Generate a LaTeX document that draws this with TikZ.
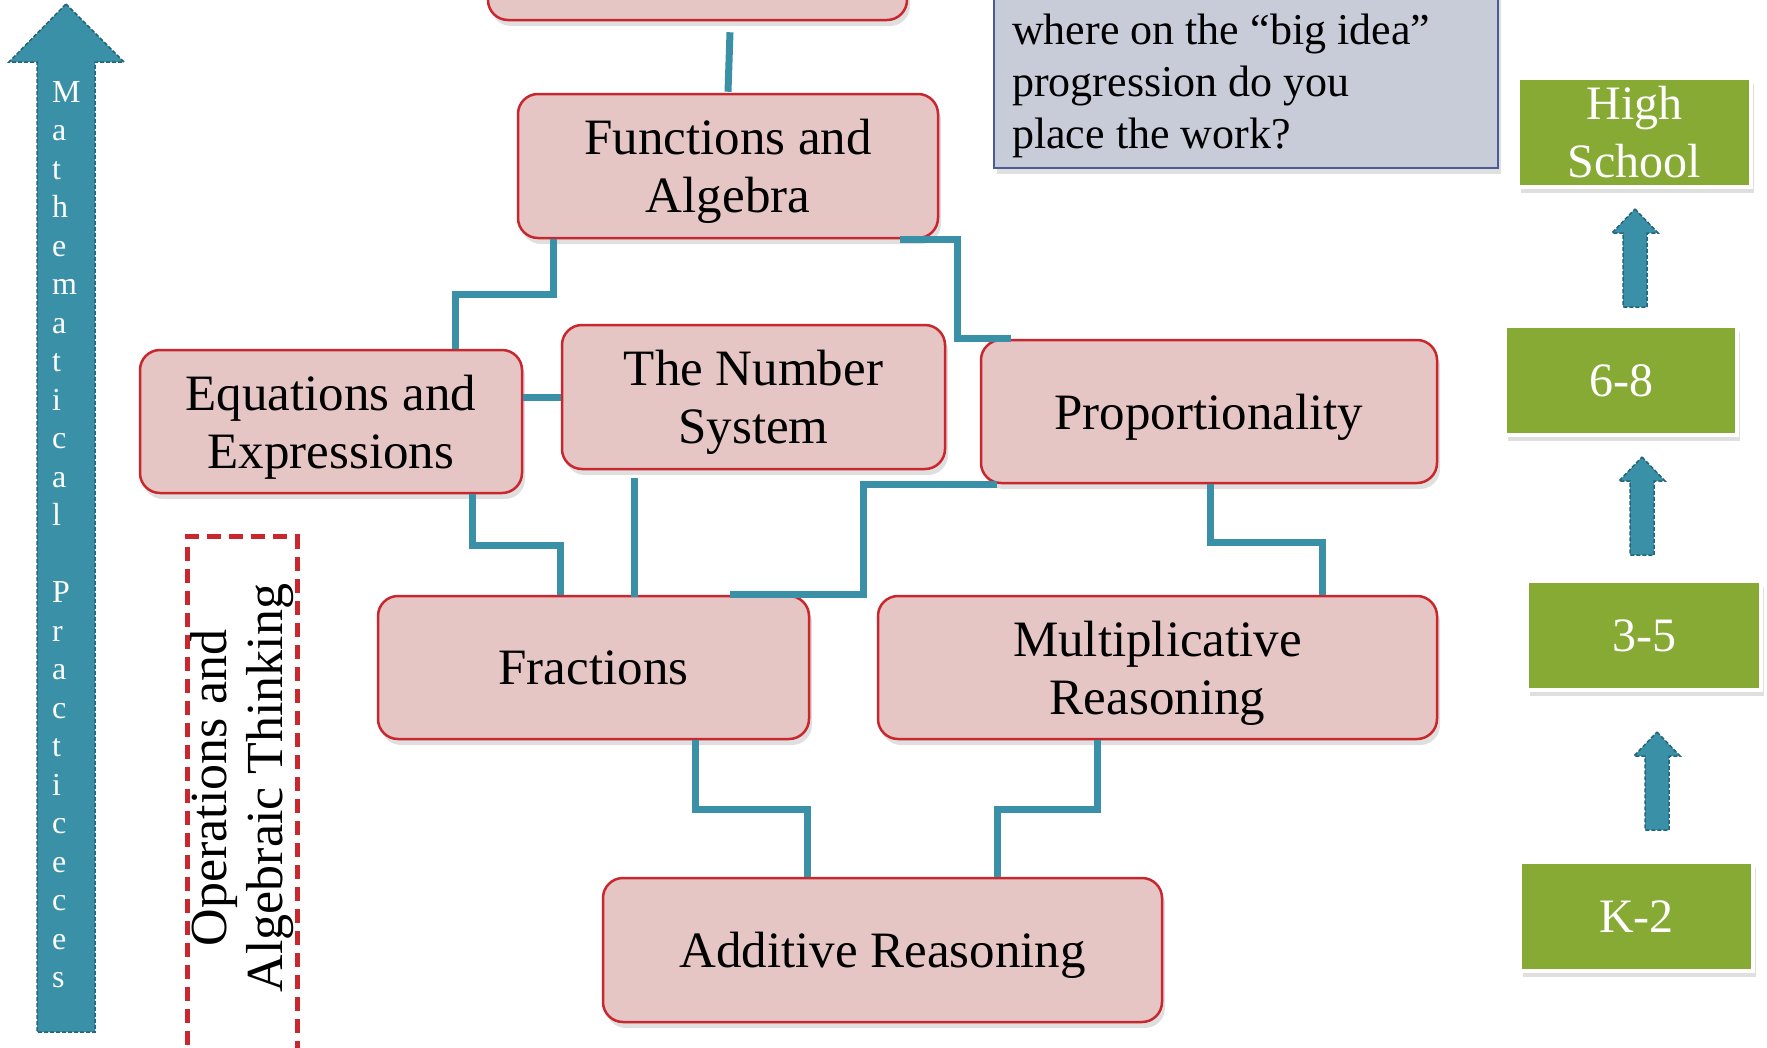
\documentclass[tikz,border=0pt]{standalone}
\usepackage{fontspec}
\setmainfont{Liberation Serif}
\usetikzlibrary{shadows}
\definecolor{boxpink}{RGB}{230,197,197}
\definecolor{boxred}{RGB}{200,40,45}
\definecolor{linkteal}{RGB}{58,144,166}
\definecolor{arrowedge}{RGB}{35,100,122}
\definecolor{gradegreen}{RGB}{135,170,52}
\definecolor{notegrey}{RGB}{200,203,216}
\definecolor{noteedge}{RGB}{74,92,150}
\newcommand\ideafont{\fontsize{51}{58}\selectfont}
\newcommand\gradefont{\fontsize{48}{58}\selectfont}
\newcommand\notefont{\fontsize{44}{52}\selectfont}
\newcommand\practicefont{\fontsize{32}{32}\selectfont}
\tikzstyle{idea} = [rectangle, rounded corners=20pt, minimum height=144pt, inner sep=0pt, text depth=0pt, text centered, align=center, draw=boxred, line width=2.5pt, fill=boxpink, font=\ideafont, drop shadow={shadow xshift=3pt, shadow yshift=-6pt, opacity=0.25}]
\tikzstyle{grade} = [rectangle, minimum width=233pt, minimum height=109pt, inner sep=0pt, text centered, align=center, draw=white, line width=4pt, fill=gradegreen, text=white, font=\gradefont, drop shadow={shadow xshift=3pt, shadow yshift=-6pt, opacity=0.25}]
\tikzstyle{note} = [rectangle, draw=noteedge, line width=2pt, fill=notegrey, drop shadow={shadow xshift=3pt, shadow yshift=-6pt, opacity=0.25}]
\tikzstyle{oatframe} = [rectangle, draw=boxred, line width=5pt, dash pattern=on 14pt off 8pt]
\tikzstyle{practice} = [anchor=base west, inner sep=0pt, text=white, font=\practicefont]
\tikzstyle{link} = [draw=linkteal, line width=7pt]
\tikzstyle{blockarrow} = [fill=linkteal, draw=arrowedge, line width=1.5pt, dash pattern=on 4pt off 2pt]

\begin{document}
\begin{tikzpicture}[x=1pt, y=-1pt]
\clip (0,0) rectangle (1767,1047);

            % practices arrow
            \draw [blockarrow] (66,4) -- (124,62) -- (95,62) -- (95,1032) -- (37,1032) -- (37,62) -- (9,62) -- cycle;
            \foreach \ch [count=\i from 0] in {M,a,t,h,e,m,a,t,i,c,a,l,{},P,r,a,c,t,i,c,e,c,e,s}
                \node (mp\i) [practice] at (52,102+38.5*\i) {\ch};

            % big ideas
            \node (topbox) [idea, minimum width=419pt] at (697.5,-52) {};
            \node (fa) [idea, minimum width=420pt] at (728,166) {Functions and\\Algebra};
            \node (eq) [idea, minimum width=382pt, minimum height=143pt] at (331,421.5) {Equations and\\Expressions};
            \node (num) [idea, minimum width=383pt] at (753.5,397) {The Number\\System};
            \node (prop) [idea, minimum width=456pt, minimum height=143pt] at (1209,411.5) {Proportionality};
            \node (frac) [idea, minimum width=431pt, minimum height=143pt] at (593.5,667.5) {Fractions};
            \node (mult) [idea, minimum width=559pt, minimum height=143pt] at (1157.5,667.5) {Multiplicative\\Reasoning};
            \node (add) [idea, minimum width=559pt] at (882.5,950) {Additive Reasoning};

            % question
            \node (note) [note, minimum width=504pt, minimum height=300pt, anchor=south west] at (993,169) {};
            \node (notetext) [anchor=north west, align=left, inner sep=0pt, font=\notefont] at (1012,14) {where on the “big idea”\\progression do you\\place the work?};

            % operations and algebraic thinking
            \node (oatbox) [oatframe, minimum width=110pt, minimum height=540pt, anchor=north] at (242,534) {};
            \node (oat) [rotate=90, align=center, inner sep=0pt, font=\fontsize{52}{56}\selectfont] at (242,788) {Operations and\\Algebraic Thinking};

            % grade bands
            \node (hs) [grade] at (1634.5,132.5) {High\\School};
            \node (g68) [grade, minimum width=232pt] at (1621,380.5) {6-8};
            \node (g35) [grade, minimum width=234pt] at (1644,635.5) {3-5};
            \node (k2) [grade] at (1636.5,916.5) {K-2};
            \foreach \tipx/\tipy in {1635/209, 1642/457, 1657/732}
                \draw [blockarrow] (\tipx,\tipy) -- ++(23,24) -- ++(-11,0) -- ++(0,74) -- ++(-24,0) -- ++(0,-74) -- ++(-11,0) -- cycle;

            % links
            \draw [link] ([xshift=32.5pt,yshift=-11pt]topbox.south) -- ([yshift=1pt]fa.north);
            \draw [link] ([xshift=37pt]fa.south west) -- ++(0,55) -| ([xshift=317pt]eq.north west);
            \draw [link] ([xshift=-39pt]fa.south east) -- ++(57,0) |- ([xshift=31pt]prop.north west);
            \draw [link] (num.west -| eq.east) -- (num.west);
            \draw [link] ([xshift=334pt]eq.south west) -- ++(0,51) -| ([xshift=184pt]frac.north west);
            \draw [link] ([xshift=-119.5pt,yshift=-8pt]num.south) -- ++(0,119);
            \draw [link] ([xshift=17pt]prop.south west) -- ++(-133,0) |- ([xshift=353pt]frac.north west);
            \draw [link] ([xshift=1pt]prop.south) -- ++(0,58) -| ([xshift=446pt]mult.north west);
            \draw [link] ([xshift=319pt]frac.south west) -- ++(0,69) -| ([xshift=206pt]add.north west);
            \draw [link] ([xshift=221pt]mult.south west) -- ++(0,69) -| ([xshift=396pt]add.north west);

\end{tikzpicture}
\end{document}
